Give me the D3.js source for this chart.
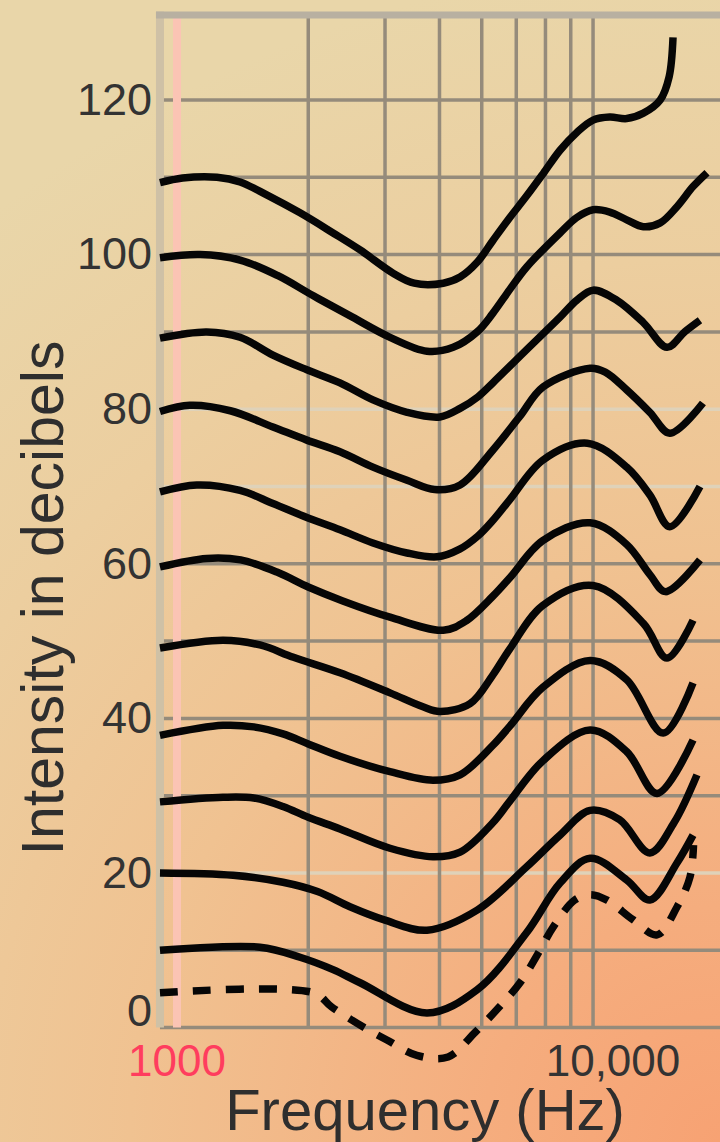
<!DOCTYPE html>
<html>
<head>
<meta charset="utf-8">
<script src="https://cdn.jsdelivr.net/npm/d3@7"></script>
<style>
html,body{margin:0;padding:0;background:#e9d5a8;}
svg{display:block;}
text{font-family:"Liberation Sans",Arial,Helvetica,sans-serif;}
</style>
</head>
<body>
<svg id="chart" width="720" height="1142"></svg>
<script>
// ---- data: equal-loudness contours, [frequency Hz, intensity dB] ----
const curve110 = [[914,109.3],[1030,109.9],[1235,110.0],[1395,109.4],[1610,107.7],[1915,105.4],[2280,102.8],[2630,100.6],[3130,97.6],[3500,96.3],[4080,96.3],[4460,97.1],[4880,99.0],[5300,101.8],[5800,104.8],[6340,107.6],[6920,110.5],[7560,113.5],[8260,115.8],[9000,117.4],[9830,117.8],[10750,117.6],[11740,118.3],[12830,120.0],[13450,123.0],[13730,128.1]];
const curve100 = [[914,99.6],[1130,100.0],[1395,99.3],[1700,97.3],[2050,94.7],[2490,92.1],[3080,89.3],[3745,87.5],[4300,88.0],[4880,90.0],[5300,92.4],[5800,95.5],[6340,98.4],[7560,102.8],[8260,104.8],[9000,105.8],[9830,105.5],[10750,104.5],[11740,103.6],[12830,104.1],[14020,106.2],[15260,108.8],[16430,110.6]];
const curve90 = [[914,89.2],[1170,90.0],[1395,89.3],[1660,87.0],[1985,85.1],[2365,83.4],[2815,81.2],[3370,79.6],[4010,79.0],[4460,80.1],[4900,81.6],[5300,83.4],[6340,87.7],[7560,91.9],[8260,94.1],[9000,95.4],[10200,94.1],[11740,91.2],[13300,88.0],[14600,90.0],[15830,91.5]];
const curve80 = [[914,79.7],[1070,80.5],[1325,79.8],[1660,77.7],[1985,76.0],[2365,74.5],[2815,72.5],[3370,70.8],[3900,69.6],[4460,70.2],[5300,74.7],[6100,79.0],[6920,82.9],[8860,85.3],[9600,84.8],[10750,82.5],[12150,79.6],[13500,76.9],[16080,80.8]];
const curve70 = [[914,69.3],[1110,70.2],[1395,69.5],[1660,67.8],[1985,66.0],[2365,64.4],[2815,62.7],[3370,61.4],[3950,60.9],[4450,61.9],[4900,63.6],[5300,65.6],[5800,68.3],[6900,73.4],[8730,75.6],[10750,72.5],[12150,68.9],[13500,64.8],[15830,70.0]];
const curve60 = [[914,59.6],[1170,60.7],[1400,60.5],[1700,58.9],[2000,57.0],[2400,55.2],[3080,53.1],[4080,51.4],[4600,52.6],[5300,55.8],[5800,58.2],[6900,63.0],[8860,65.3],[10750,62.5],[12150,58.6],[13200,56.4],[15830,60.5]];
const curve50 = [[914,49.1],[1275,50.1],[1550,49.5],[1850,47.9],[2365,45.9],[3080,43.3],[3665,41.5],[4010,40.9],[4700,41.9],[5300,45.6],[5800,49.0],[6900,54.6],[9000,57.2],[11740,52.3],[13300,47.8],[15260,52.7]];
const curve40 = [[914,37.8],[1275,39.1],[1500,38.9],[1750,38.0],[2000,36.7],[2365,35.1],[3080,33.1],[3865,32.0],[4460,32.7],[5300,36.5],[5800,39.0],[6900,44.0],[8860,47.5],[10750,45.0],[13040,38.1],[15260,44.6]];
const curve30 = [[914,29.2],[1275,29.8],[1500,29.7],[1750,28.6],[2000,27.2],[2365,25.7],[3080,23.2],[3865,22.1],[4460,22.7],[5300,26.5],[5800,29.3],[6900,34.5],[8860,38.5],[10750,35.7],[12620,30.3],[15260,37.2]];
const curve20 = [[914,20.0],[1345,19.7],[1750,18.8],[2100,17.6],[2500,15.6],[3000,13.9],[3745,12.6],[4880,15.2],[6340,20.8],[7560,24.9],[8860,28.1],[10350,26.9],[12150,22.6],[13800,26.5],[15580,32.7]];
const curve10 = [[914,10.0],[1550,10.4],[1915,9.1],[2280,7.5],[2630,5.8],[3745,1.9],[4880,4.9],[6340,12.3],[7560,18.7],[8860,21.9],[10750,19.1],[12150,16.5],[14020,21.3],[15260,24.9]];
const threshold = [[914,4.5],[2060,4.5],[2260,2.7],[2670,0.1],[3030,-1.6],[3550,-3.6],[4185,-3.8],[4830,-0.6],[5450,2.5],[6120,5.8],[6750,9.7],[7290,13.0],[8170,16.5],[8860,17.2],[9690,16.5],[11090,14.0],[12620,12.0],[14020,15.6],[15020,19.5],[15300,23.6]];

const solidCurves = [curve110, curve100, curve90, curve80, curve70, curve60, curve50, curve40, curve30, curve20, curve10];

const dbGrid = [0,10,20,30,40,50,60,70,80,90,100,110,120];
const dbLabels = [0,20,40,60,80,100,120];
const lightDbLines = [20,70,80];
const freqGrid = [2000,3000,4000,5000,6000,7000,8000,9000];
const refFreq = 1000;
const freqLabels = [{f:1000, text:"1000"}, {f:10000, text:"10,000"}];
const fMin = 914, fMax = 20000, dbTop = 131;

(function draw(){
  const x = d3.scaleLog().domain([1000, 10000]).range([177, 613]);
  const y = d3.scaleLinear().domain([0, 120]).range([1027.6, 100]);

  const svg = d3.select("#chart");
  const W = 720, H = 1142;

  const defs = svg.append("defs");
  const grad = defs.append("radialGradient").attr("id","bg")
    .attr("gradientUnits","userSpaceOnUse").attr("cx",W).attr("cy",H).attr("r",1180);
  [[0,"#f7a273"],[0.2,"#f5ad7e"],[0.5,"#f0c291"],[0.75,"#ecce9f"],[1,"#e9d6a9"]].forEach(s=>
    grad.append("stop").attr("offset",s[0]).attr("stop-color",s[1]));
  svg.append("rect").attr("width",W).attr("height",H).attr("fill","url(#bg)");

  const pLeft = x(fMin), pRight = Math.min(W, x(fMax));
  const pTop = y(dbTop), pBottom = y(0);

  const g = svg.append("g");

  g.selectAll("line.h").data(dbGrid).join("line")
    .attr("x1", pLeft).attr("x2", pRight)
    .attr("y1", d=>y(d)).attr("y2", d=>y(d))
    .attr("stroke", d=> lightDbLines.includes(d) ? "#dfd2b9" : "#958b7b")
    .attr("stroke-width", 3.5);

  g.selectAll("line.v").data(freqGrid).join("line")
    .attr("x1", d=>x(d)).attr("x2", d=>x(d))
    .attr("y1", pTop).attr("y2", pBottom)
    .attr("stroke", "#958b7b").attr("stroke-width", 3.5);

  g.append("line").attr("x1", x(refFreq)).attr("x2", x(refFreq))
    .attr("y1", pTop).attr("y2", pBottom)
    .attr("stroke", "#fbc4b4").attr("stroke-width", 8);

  g.append("line").attr("x1", pLeft).attr("x2", pLeft)
    .attr("y1", pTop-3.5).attr("y2", pBottom)
    .attr("stroke", "#cfc1a6").attr("stroke-width", 8);
  g.append("line").attr("x1", pLeft-4).attr("x2", W)
    .attr("y1", pTop).attr("y2", pTop)
    .attr("stroke", "#b8b0a1").attr("stroke-width", 7);

  const line = d3.line().x(d=>x(d[0])).y(d=>y(d[1])).curve(d3.curveCatmullRom.alpha(0.5));
  g.selectAll("path.c").data(solidCurves).join("path")
    .attr("d", line).attr("fill","none")
    .attr("stroke","#060606").attr("stroke-width",7.5)
    .attr("stroke-linejoin","round");

  g.append("path").datum(threshold).attr("d", line).attr("fill","none")
    .attr("stroke","#060606").attr("stroke-width",7.5)
    .attr("stroke-dasharray","18 15");

  svg.selectAll("text.yl").data(dbLabels).join("text")
    .attr("x", 152).attr("y", d=> y(d) + (d===0 ? -13 : 3))
    .attr("dominant-baseline","middle")
    .attr("text-anchor","end").attr("font-size",45).attr("fill","#333")
    .text(d=>d);

  svg.selectAll("text.xl").data(freqLabels).join("text")
    .attr("x", d=>x(d.f)).attr("y", 1076)
    .attr("text-anchor","middle").attr("font-size",44)
    .attr("fill", d=> d.f===refFreq ? "#ff3d5e" : "#333")
    .text(d=>d.text);

  svg.append("text").attr("x", 425).attr("y", 1130)
    .attr("text-anchor","middle").attr("font-size",58).attr("fill","#2e2e2e")
    .text("Frequency (Hz)");
  svg.append("text").attr("transform","translate(63,598) rotate(-90)")
    .attr("text-anchor","middle").attr("font-size",59).attr("fill","#2e2e2e")
    .text("Intensity in decibels");
})();
</script>
</body>
</html>
